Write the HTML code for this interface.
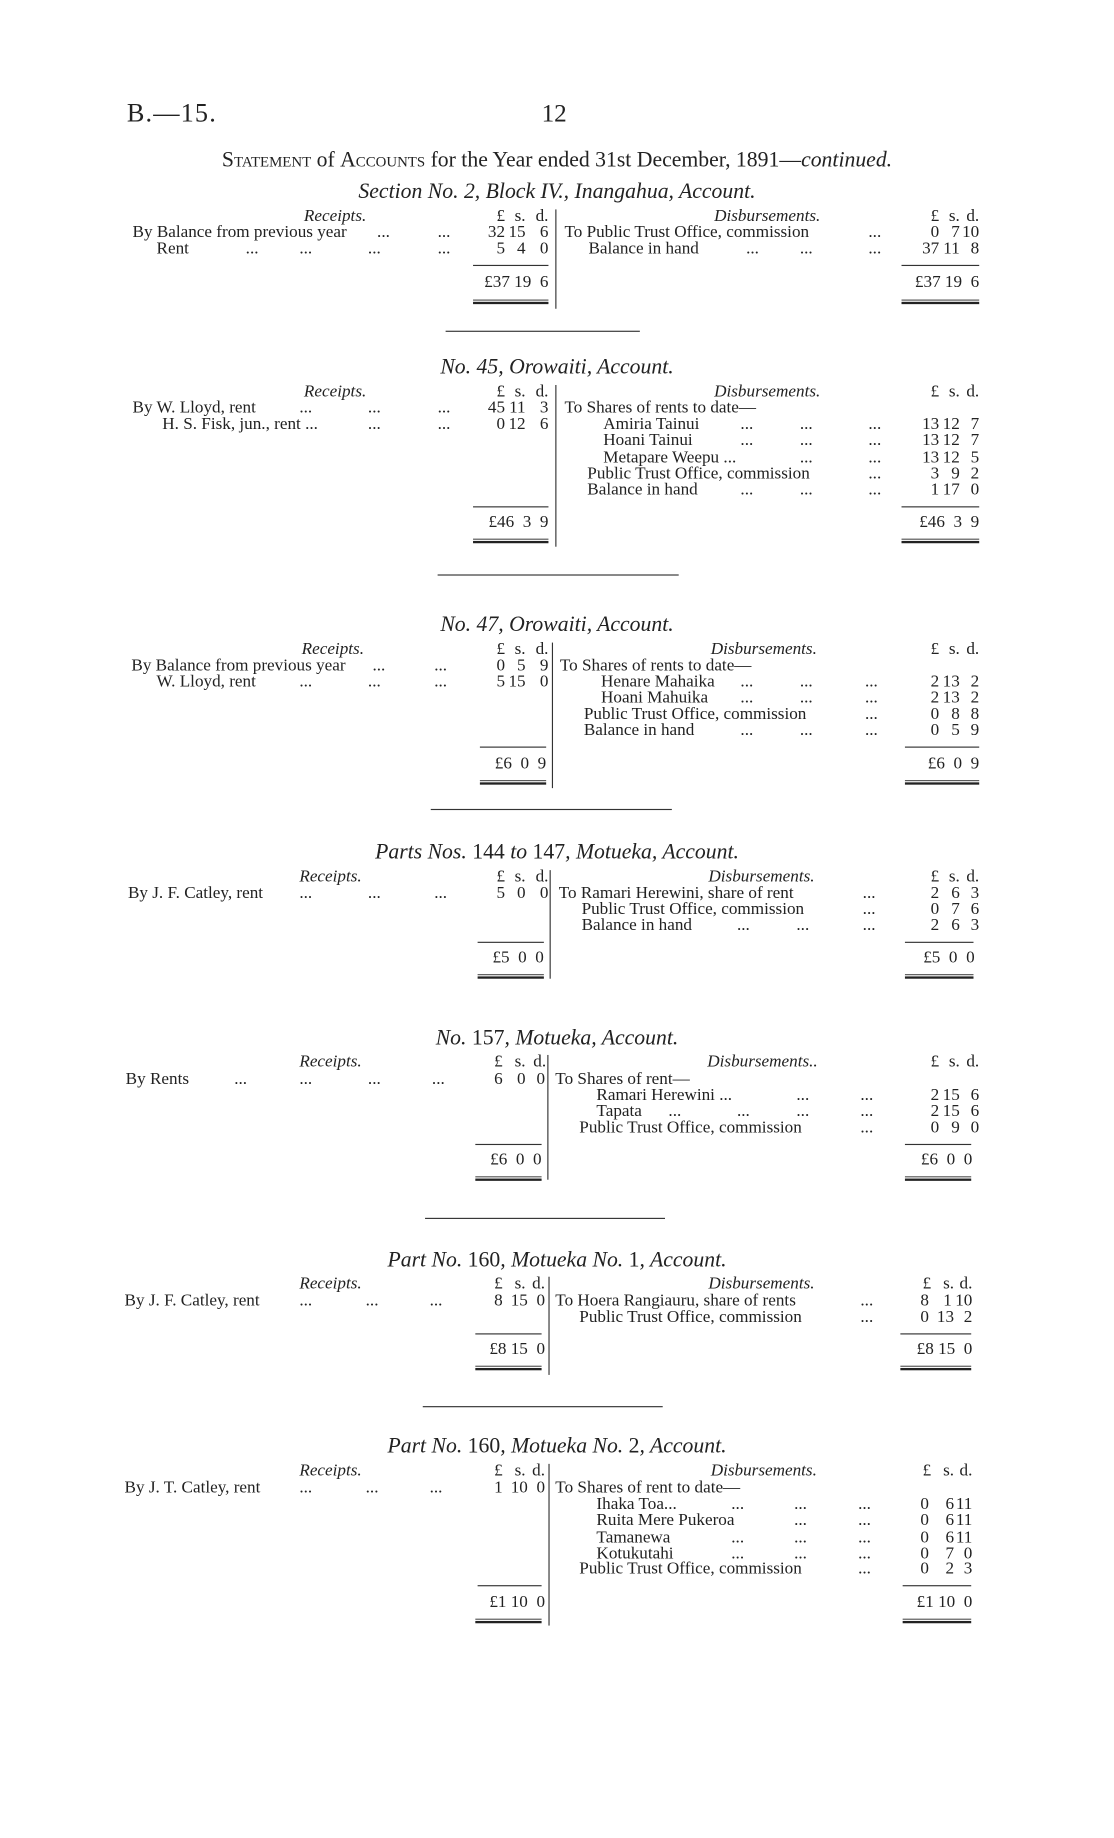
<!DOCTYPE html>
<html><head><meta charset="utf-8"><style>
html,body{margin:0;padding:0;background:#fff;}
body{width:1114px;height:1816px;overflow:hidden;position:relative;}
#w{position:absolute;left:0;top:0;width:975px;height:1590px;transform:translate(0px,1.5px) scale(1.1426,1.1551);transform-origin:0 0;font-family:"Liberation Serif",serif;color:#222;font-size:15px;}
.r{position:absolute;left:0;width:975px;height:15px;line-height:15px;}
.r>span{position:absolute;top:0;white-space:nowrap;}
.i{font-style:italic;}
.h{position:absolute;left:0;width:975px;text-align:center;font-style:italic;font-size:19px;line-height:18px;}
.p1{right:533px}.s1{right:515px}.d1{right:495px}
.p2{right:153px}.s2{right:135px}.d2{right:118px}
.v{position:absolute;width:1px;background:#333;}
.sr{position:absolute;height:1px;background:#333;}
.dr{position:absolute;height:1px;border-top:1px solid #555;border-bottom:2px solid #222;}
.sep{position:absolute;height:1px;background:#333;}
.sc{font-variant:small-caps;}
</style></head><body><div id="w">
<div style="position:absolute;left:111px;top:84px;font-size:23px;letter-spacing:1px;">B.—15.</div>
<div style="position:absolute;left:474px;top:84px;font-size:22px;">12</div>
<div class="h" style="top:129px;font-style:normal;font-size:19px;"><span class="sc">Statement</span> of <span class="sc">Accounts</span> for the Year ended 31st December, 1891—<i>continued.</i></div>

<!-- Section 1 -->
<div class="h" style="top:156px;">Section No. 2, Block IV., Inangahua, Account.</div>
<div class="r" style="top:179px"><span class="i" style="left:266px">Receipts.</span><span class="p1">£</span><span class="s1">s.</span><span class="d1">d.</span><span class="i" style="left:625px">Disbursements.</span><span class="p2">£</span><span class="s2">s.</span><span class="d2">d.</span></div>
<div class="r" style="top:193px"><span style="left:116px">By Balance from previous year</span><span style="left:330px">...</span><span style="left:383px">...</span><span class="p1">32</span><span class="s1">15</span><span class="d1">6</span><span style="left:494px">To Public Trust Office, commission</span><span style="left:760px">...</span><span class="p2">0</span><span class="s2">7</span><span class="d2">10</span></div>
<div class="r" style="top:207px"><span style="left:137px">Rent</span><span style="left:215px">...</span><span style="left:262px">...</span><span style="left:322px">...</span><span style="left:383px">...</span><span class="p1">5</span><span class="s1">4</span><span class="d1">0</span><span style="left:515px">Balance in hand</span><span style="left:653px">...</span><span style="left:700px">...</span><span style="left:760px">...</span><span class="p2">37</span><span class="s2">11</span><span class="d2">8</span></div>
<div class="v" style="left:486px;top:180px;height:86px"></div>
<div class="sr" style="left:414px;top:228px;width:66px"></div><div class="sr" style="left:789px;top:228px;width:68px"></div>
<div class="r" style="top:236px"><span style="right:495px">£37&nbsp;19&nbsp;&nbsp;6</span><span style="right:118px">£37&nbsp;19&nbsp;&nbsp;6</span></div>
<div class="dr" style="left:414px;top:258px;width:66px"></div><div class="dr" style="left:789px;top:258px;width:68px"></div>
<div class="sep" style="left:390px;top:285px;width:170px"></div>

<!-- Section 2 -->
<div class="h" style="top:308px;">No. 45, Orowaiti, Account.</div>
<div class="r" style="top:331px"><span class="i" style="left:266px">Receipts.</span><span class="p1">£</span><span class="s1">s.</span><span class="d1">d.</span><span class="i" style="left:625px">Disbursements.</span><span class="p2">£</span><span class="s2">s.</span><span class="d2">d.</span></div>
<div class="r" style="top:345px"><span style="left:116px">By W. Lloyd, rent</span><span style="left:262px">...</span><span style="left:322px">...</span><span style="left:383px">...</span><span class="p1">45</span><span class="s1">11</span><span class="d1">3</span><span style="left:494px">To Shares of rents to date—</span></div>
<div class="r" style="top:359px"><span style="left:142px">H. S. Fisk, jun., rent ...</span><span style="left:322px">...</span><span style="left:383px">...</span><span class="p1">0</span><span class="s1">12</span><span class="d1">6</span><span style="left:528px">Amiria Tainui</span><span style="left:648px">...</span><span style="left:700px">...</span><span style="left:760px">...</span><span class="p2">13</span><span class="s2">12</span><span class="d2">7</span></div>
<div class="r" style="top:373px"><span style="left:528px">Hoani Tainui</span><span style="left:648px">...</span><span style="left:700px">...</span><span style="left:760px">...</span><span class="p2">13</span><span class="s2">12</span><span class="d2">7</span></div>
<div class="r" style="top:388px"><span style="left:528px">Metapare Weepu ...</span><span style="left:700px">...</span><span style="left:760px">...</span><span class="p2">13</span><span class="s2">12</span><span class="d2">5</span></div>
<div class="r" style="top:402px"><span style="left:514px">Public Trust Office, commission</span><span style="left:760px">...</span><span class="p2">3</span><span class="s2">9</span><span class="d2">2</span></div>
<div class="r" style="top:416px"><span style="left:514px">Balance in hand</span><span style="left:648px">...</span><span style="left:700px">...</span><span style="left:760px">...</span><span class="p2">1</span><span class="s2">17</span><span class="d2">0</span></div>
<div class="v" style="left:486px;top:332px;height:140px"></div>
<div class="sr" style="left:414px;top:437px;width:66px"></div><div class="sr" style="left:789px;top:437px;width:68px"></div>
<div class="r" style="top:444px"><span style="right:495px">£46&nbsp;&nbsp;3&nbsp;&nbsp;9</span><span style="right:118px">£46&nbsp;&nbsp;3&nbsp;&nbsp;9</span></div>
<div class="dr" style="left:414px;top:465px;width:66px"></div><div class="dr" style="left:789px;top:465px;width:68px"></div>
<div class="sep" style="left:383px;top:496px;width:211px"></div>

<!-- Section 3 -->
<div class="h" style="top:531px;">No. 47, Orowaiti, Account.</div>
<div class="r" style="top:554px"><span class="i" style="left:264px">Receipts.</span><span class="p1">£</span><span class="s1">s.</span><span class="d1">d.</span><span class="i" style="left:622px">Disbursements.</span><span class="p2">£</span><span class="s2">s.</span><span class="d2">d.</span></div>
<div class="r" style="top:568px"><span style="left:115px">By Balance from previous year</span><span style="left:326px">...</span><span style="left:380px">...</span><span class="p1">0</span><span class="s1">5</span><span class="d1">9</span><span style="left:490px">To Shares of rents to date—</span></div>
<div class="r" style="top:582px"><span style="left:137px">W. Lloyd, rent</span><span style="left:262px">...</span><span style="left:322px">...</span><span style="left:380px">...</span><span class="p1">5</span><span class="s1">15</span><span class="d1">0</span><span style="left:526px">Henare Mahaika</span><span style="left:648px">...</span><span style="left:700px">...</span><span style="left:757px">...</span><span class="p2">2</span><span class="s2">13</span><span class="d2">2</span></div>
<div class="r" style="top:596px"><span style="left:526px">Hoani Mahuika</span><span style="left:648px">...</span><span style="left:700px">...</span><span style="left:757px">...</span><span class="p2">2</span><span class="s2">13</span><span class="d2">2</span></div>
<div class="r" style="top:610px"><span style="left:511px">Public Trust Office, commission</span><span style="left:757px">...</span><span class="p2">0</span><span class="s2">8</span><span class="d2">8</span></div>
<div class="r" style="top:624px"><span style="left:511px">Balance in hand</span><span style="left:648px">...</span><span style="left:700px">...</span><span style="left:757px">...</span><span class="p2">0</span><span class="s2">5</span><span class="d2">9</span></div>
<div class="v" style="left:483px;top:555px;height:126px"></div>
<div class="sr" style="left:420px;top:645px;width:58px"></div><div class="sr" style="left:792px;top:645px;width:65px"></div>
<div class="r" style="top:653px"><span style="right:497px">£6&nbsp;&nbsp;0&nbsp;&nbsp;9</span><span style="right:118px">£6&nbsp;&nbsp;0&nbsp;&nbsp;9</span></div>
<div class="dr" style="left:420px;top:674px;width:58px"></div><div class="dr" style="left:792px;top:674px;width:65px"></div>
<div class="sep" style="left:377px;top:699px;width:211px"></div>

<!-- Section 4 -->
<div class="h" style="top:728px;">Parts Nos. <span style="font-style:normal">144</span> to <span style="font-style:normal">147</span>, Motueka, Account.</div>
<div class="r" style="top:751px"><span class="i" style="left:262px">Receipts.</span><span class="p1">£</span><span class="s1">s.</span><span class="d1">d.</span><span class="i" style="left:620px">Disbursements.</span><span class="p2">£</span><span class="s2">s.</span><span class="d2">d.</span></div>
<div class="r" style="top:765px"><span style="left:112px">By J. F. Catley, rent</span><span style="left:262px">...</span><span style="left:322px">...</span><span style="left:380px">...</span><span class="p1">5</span><span class="s1">0</span><span class="d1">0</span><span style="left:489px">To Ramari Herewini, share of rent</span><span style="left:755px">...</span><span class="p2">2</span><span class="s2">6</span><span class="d2">3</span></div>
<div class="r" style="top:779px"><span style="left:509px">Public Trust Office, commission</span><span style="left:755px">...</span><span class="p2">0</span><span class="s2">7</span><span class="d2">6</span></div>
<div class="r" style="top:793px"><span style="left:509px">Balance in hand</span><span style="left:645px">...</span><span style="left:697px">...</span><span style="left:755px">...</span><span class="p2">2</span><span class="s2">6</span><span class="d2">3</span></div>
<div class="v" style="left:481px;top:752px;height:94px"></div>
<div class="sr" style="left:418px;top:814px;width:58px"></div><div class="sr" style="left:792px;top:814px;width:60px"></div>
<div class="r" style="top:821px"><span style="right:499px">£5&nbsp;&nbsp;0&nbsp;&nbsp;0</span><span style="right:122px">£5&nbsp;&nbsp;0&nbsp;&nbsp;0</span></div>
<div class="dr" style="left:418px;top:842px;width:58px"></div><div class="dr" style="left:792px;top:842px;width:60px"></div>

<!-- Section 5 -->
<div class="h" style="top:889px;">No. <span style="font-style:normal">157</span>, Motueka, Account.</div>
<div class="r" style="top:911px"><span class="i" style="left:262px">Receipts.</span><span style="right:535px">£</span><span style="right:515px">s.</span><span style="right:497px">d.</span><span class="i" style="left:619px">Disbursements..</span><span class="p2">£</span><span class="s2">s.</span><span class="d2">d.</span></div>
<div class="r" style="top:926px"><span style="left:110px">By Rents</span><span style="left:205px">...</span><span style="left:262px">...</span><span style="left:322px">...</span><span style="left:378px">...</span><span style="right:535px">6</span><span style="right:515px">0</span><span style="right:498px">0</span><span style="left:486px">To Shares of rent—</span></div>
<div class="r" style="top:940px"><span style="left:522px">Ramari Herewini ...</span><span style="left:697px">...</span><span style="left:753px">...</span><span class="p2">2</span><span class="s2">15</span><span class="d2">6</span></div>
<div class="r" style="top:954px"><span style="left:522px">Tapata</span><span style="left:585px">...</span><span style="left:645px">...</span><span style="left:697px">...</span><span style="left:753px">...</span><span class="p2">2</span><span class="s2">15</span><span class="d2">6</span></div>
<div class="r" style="top:968px"><span style="left:507px">Public Trust Office, commission</span><span style="left:753px">...</span><span class="p2">0</span><span class="s2">9</span><span class="d2">0</span></div>
<div class="v" style="left:479px;top:912px;height:108px"></div>
<div class="sr" style="left:416px;top:989px;width:58px"></div><div class="sr" style="left:792px;top:989px;width:58px"></div>
<div class="r" style="top:996px"><span style="right:501px">£6&nbsp;&nbsp;0&nbsp;&nbsp;0</span><span style="right:124px">£6&nbsp;&nbsp;0&nbsp;&nbsp;0</span></div>
<div class="dr" style="left:416px;top:1017px;width:58px"></div><div class="dr" style="left:792px;top:1017px;width:58px"></div>
<div class="sep" style="left:372px;top:1053px;width:210px"></div>

<!-- Section 6 -->
<div class="h" style="top:1081px;">Part No. <span style="font-style:normal">160</span>, Motueka No. <span style="font-style:normal">1</span>, Account.</div>
<div class="r" style="top:1103px"><span class="i" style="left:262px">Receipts.</span><span style="right:535px">£</span><span style="right:515px">s.</span><span style="right:498px">d.</span><span class="i" style="left:620px">Disbursements.</span><span style="right:160px">£</span><span style="right:140px">s.</span><span style="right:124px">d.</span></div>
<div class="r" style="top:1118px"><span style="left:109px">By J. F. Catley, rent</span><span style="left:262px">...</span><span style="left:320px">...</span><span style="left:376px">...</span><span style="right:535px">8</span><span style="right:513px">15</span><span style="right:498px">0</span><span style="left:486px">To Hoera Rangiauru, share of rents</span><span style="left:753px">...</span><span style="right:162px">8</span><span style="right:142px">1</span><span style="right:124px">10</span></div>
<div class="r" style="top:1132px"><span style="left:507px">Public Trust Office, commission</span><span style="left:753px">...</span><span style="right:162px">0</span><span style="right:140px">13</span><span style="right:124px">2</span></div>
<div class="v" style="left:480px;top:1104px;height:85px"></div>
<div class="sr" style="left:416px;top:1153px;width:58px"></div><div class="sr" style="left:788px;top:1153px;width:62px"></div>
<div class="r" style="top:1160px"><span style="right:498px">£8&nbsp;15&nbsp;&nbsp;0</span><span style="right:124px">£8&nbsp;15&nbsp;&nbsp;0</span></div>
<div class="dr" style="left:416px;top:1181px;width:58px"></div><div class="dr" style="left:788px;top:1181px;width:62px"></div>
<div class="sep" style="left:370px;top:1216px;width:210px"></div>

<!-- Section 7 -->
<div class="h" style="top:1242px;">Part No. <span style="font-style:normal">160</span>, Motueka No. <span style="font-style:normal">2</span>, Account.</div>
<div class="r" style="top:1265px"><span class="i" style="left:262px">Receipts.</span><span style="right:535px">£</span><span style="right:515px">s.</span><span style="right:498px">d.</span><span class="i" style="left:622px">Disbursements.</span><span style="right:160px">£</span><span style="right:140px">s.</span><span style="right:124px">d.</span></div>
<div class="r" style="top:1280px"><span style="left:109px">By J. T. Catley, rent</span><span style="left:262px">...</span><span style="left:320px">...</span><span style="left:376px">...</span><span style="right:535px">1</span><span style="right:513px">10</span><span style="right:498px">0</span><span style="left:486px">To Shares of rent to date—</span></div>
<div class="r" style="top:1294px"><span style="left:522px">Ihaka Toa...</span><span style="left:640px">...</span><span style="left:695px">...</span><span style="left:751px">...</span><span style="right:162px">0</span><span style="right:140px">6</span><span style="right:124px">11</span></div>
<div class="r" style="top:1308px"><span style="left:522px">Ruita Mere Pukeroa</span><span style="left:695px">...</span><span style="left:751px">...</span><span style="right:162px">0</span><span style="right:140px">6</span><span style="right:124px">11</span></div>
<div class="r" style="top:1323px"><span style="left:522px">Tamanewa</span><span style="left:640px">...</span><span style="left:695px">...</span><span style="left:751px">...</span><span style="right:162px">0</span><span style="right:140px">6</span><span style="right:124px">11</span></div>
<div class="r" style="top:1337px"><span style="left:522px">Kotukutahi</span><span style="left:640px">...</span><span style="left:695px">...</span><span style="left:751px">...</span><span style="right:162px">0</span><span style="right:140px">7</span><span style="right:124px">0</span></div>
<div class="r" style="top:1350px"><span style="left:507px">Public Trust Office, commission</span><span style="left:751px">...</span><span style="right:162px">0</span><span style="right:140px">2</span><span style="right:124px">3</span></div>
<div class="v" style="left:480px;top:1266px;height:140px"></div>
<div class="sr" style="left:418px;top:1371px;width:56px"></div><div class="sr" style="left:790px;top:1371px;width:60px"></div>
<div class="r" style="top:1379px"><span style="right:498px">£1&nbsp;10&nbsp;&nbsp;0</span><span style="right:124px">£1&nbsp;10&nbsp;&nbsp;0</span></div>
<div class="dr" style="left:416px;top:1400px;width:58px"></div><div class="dr" style="left:790px;top:1400px;width:60px"></div>
</div></body></html>
